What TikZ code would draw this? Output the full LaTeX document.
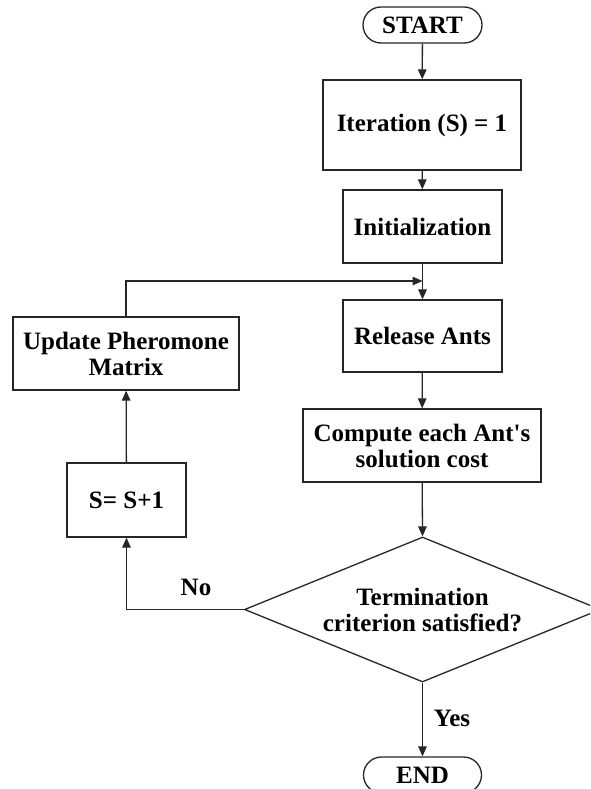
\documentclass[tikz,border=0pt]{standalone}
\usepackage{fontspec}
\setmainfont{Liberation Serif}[Ligatures=TeXOff]
\usetikzlibrary{shapes.geometric,arrows.meta}
\tikzset{
  x=1pt,y=-1pt,
  box/.style={draw=black!85,line width=1.3pt,rectangle,inner sep=0pt,align=center,
    font=\fontsize{25}{26}\selectfont\bfseries},
  term/.style={box,rounded corners=18pt},
  dec/.style={box,shape=diamond,aspect=2.46},
  conn/.style={draw=black!85,line width=1.3pt,-{Triangle[length=10pt,width=8.5pt]}},
  lbl/.style={font=\fontsize{25}{26}\selectfont\bfseries,inner sep=0pt}
}
\begin{document}
\begin{tikzpicture}
\clip (0,0) rectangle (590,789);
\fill[white] (0,0) rectangle (590,789);
\node[term,minimum width=119pt,minimum height=36pt] (start) at (422.5,25) {START};
\node[box,minimum width=198pt,minimum height=90pt] (iter) at (422,125) {Iteration (S) = 1};
\node[box,minimum width=159pt,minimum height=73pt] (init) at (422.5,226.5) {Initialization};
\node[box,minimum width=159pt,minimum height=72pt] (rel) at (422.5,336) {Release Ants};
\node[box,minimum width=238pt,minimum height=73pt] (comp) at (422,445.5) {Compute each Ant's\\solution cost};
\node[box,minimum width=226pt,minimum height=73pt] (upd) at (126,353.5) {Update Pheromone\\Matrix};
\node[box,minimum width=119pt,minimum height=74pt] (inc) at (126.5,500) {S= S+1};
\node[dec,minimum width=356pt,minimum height=145pt] (dia) at (422.5,609.5) {Termination\\criterion satisfied?};
\node[term,minimum width=118pt,minimum height=36pt] (fin) at (422.5,775) {END};
\coordinate (merge) at (422.5,281);
\draw[conn] (start) -- (iter);
\draw[conn] (iter) -- (init);
\draw[conn] (init) -- (rel);
\draw[conn] (upd.north) |- (merge);
\draw[conn] (rel) -- (comp);
\draw[conn] (comp) -- (dia.north);
\draw[conn] (dia.west) -| (inc.south);
\draw[conn] (inc) -- (upd);
\draw[conn] (dia.south) -- (fin.north);
\node[lbl] (no) at (196,587) {No};
\node[lbl] (yes) at (452,718) {Yes};
\end{tikzpicture}
\end{document}
